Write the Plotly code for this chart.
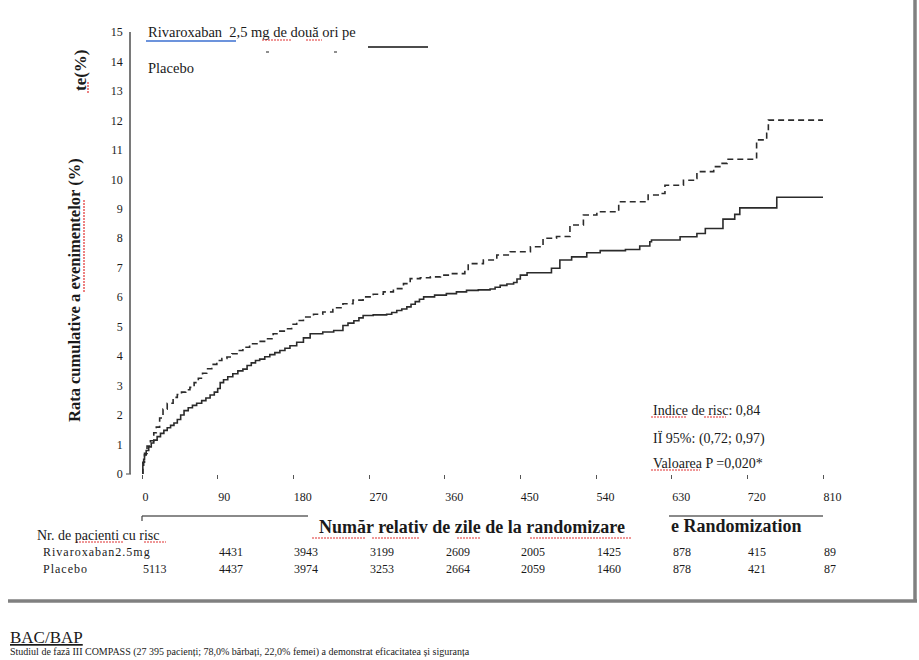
import plotly.graph_objects as go

# ---------------- data ----------------
riva_days = [0, 1, 2, 3, 5, 8, 11, 14, 18, 22, 26, 30, 34, 38, 42, 46, 50, 55, 60, 65, 71, 76, 81,
             86, 90, 93, 97, 102, 108, 114, 120, 125, 130, 135, 140, 146, 152, 158, 164, 170, 176,
             184, 192, 200, 215, 228, 239, 245, 252, 258, 263, 275, 291, 297, 303, 309, 315, 320,
             325, 330, 335, 348, 362, 374, 386, 400, 414, 420, 426, 434, 442, 446, 450, 458, 487,
             497, 511, 529, 545, 575, 592, 604, 606, 640, 660, 670, 691, 705, 711, 755, 810]
riva_rate = [0, 0.3, 0.5, 0.65, 0.8, 0.92, 1.05, 1.15, 1.27, 1.38, 1.48, 1.57, 1.65, 1.73, 1.85,
             2.0, 2.15, 2.25, 2.33, 2.4, 2.49, 2.58, 2.68, 2.78, 2.9, 3.1, 3.2, 3.3, 3.4, 3.5, 3.56,
             3.68, 3.77, 3.85, 3.9, 3.98, 4.05, 4.12, 4.19, 4.27, 4.35, 4.47, 4.62, 4.76, 4.82,
             4.87, 5.04, 5.12, 5.2, 5.3, 5.38, 5.4, 5.42, 5.48, 5.55, 5.6, 5.67, 5.76, 5.85, 5.93,
             6.01, 6.07, 6.12, 6.18, 6.23, 6.25, 6.28, 6.34, 6.4, 6.45, 6.5, 6.62, 6.75, 6.83, 6.98,
             7.26, 7.37, 7.51, 7.58, 7.62, 7.74, 7.88, 7.94, 8.05, 8.16, 8.33, 8.65, 8.81, 9.03,
             9.39, 9.39]

plac_days = [0, 1, 3, 6, 10, 14, 17, 21, 25, 30, 37, 42, 47, 52, 57, 62, 67, 72, 77, 83, 89, 95,
             101, 107, 113, 120, 128, 138, 148, 156, 164, 172, 178, 184, 192, 204, 215, 227, 239,
             251, 263, 275, 287, 299, 311, 319, 331, 343, 355, 366, 384, 388, 406, 422, 438, 462,
             477, 493, 509, 525, 541, 567, 602, 614, 622, 644, 658, 660, 680, 690, 696, 731, 743,
             745, 810]
plac_rate = [0, 0.4, 0.7, 0.95, 1.13, 1.4, 1.59, 1.9, 2.2, 2.4, 2.6, 2.7, 2.78, 2.86, 2.94, 3.1,
             3.25, 3.42, 3.57, 3.72, 3.85, 3.92, 3.97, 4.08, 4.19, 4.3, 4.42, 4.5, 4.59, 4.76, 4.85,
             4.93, 5.08, 5.21, 5.33, 5.42, 5.5, 5.64, 5.78, 5.9, 6.01, 6.1, 6.18, 6.29, 6.46, 6.63,
             6.66, 6.69, 6.75, 6.8, 6.91, 7.14, 7.26, 7.43, 7.54, 7.71, 8.0, 8.06, 8.45, 8.79, 8.9,
             9.24, 9.47, 9.52, 9.8, 9.97, 10.03, 10.26, 10.43, 10.54, 10.68, 11.34, 11.56, 12.01,
             12.01]

x_ticks = [0, 90, 180, 270, 360, 450, 540, 630, 720, 810]
x_tick_labels = ["0", "90", "180", "270", "360", "450", "540", "630", "720", "810"]
y_ticks = list(range(0, 16))

risk_riva = [None, 4431, 3943, 3199, 2609, 2005, 1425, 878, 415, 89]
risk_plac = [5113, 4437, 3974, 3253, 2664, 2059, 1460, 878, 421, 87]

stats_lines = ["Indice de risc: 0,84", "IÏ 95%: (0,72; 0,97)", "Valoarea P =0,020*"]

# ---------------- layout helpers (pixel -> paper) ----------------
W, H = 919, 660
L, R, T, B = 131, 89, 32, 186
PW, PH = W - L - R, H - T - B
def px(x):
    return (x - L) / PW
def py(y):
    return (H - B - y) / PH

SERIF = "Liberation Serif, Times New Roman, serif"
INK = "#1a1a1a"

fig = go.Figure()
fig.add_trace(go.Scatter(x=riva_days, y=riva_rate, mode="lines", line_shape="hv",
                         line=dict(color="#2b2b2b", width=1.6), name="Rivaroxaban 2,5 mg",
                         hoverinfo="skip"))
fig.add_trace(go.Scatter(x=plac_days, y=plac_rate, mode="lines", line_shape="hv",
                         line=dict(color="#2b2b2b", width=1.6, dash="6px,4px"), name="Placebo",
                         hoverinfo="skip"))

ann = []
def text(x, y, s, size=14, bold=False, anchor="left", angle=0, xref="paper", yanchor="middle", **kw):
    ann.append(dict(x=x, y=y, xref=xref, yref="paper", text=s, showarrow=False,
                    xanchor=anchor, yanchor=yanchor, textangle=angle,
                    font=dict(family=SERIF, size=size, color=INK,
                              weight="bold" if bold else "normal"), **kw))

text(px(146), py(32), "Rivaroxaban  2,5 mg de două ori pe", size=14.5)
text(px(146), py(68), "Placebo", size=14.5)
text(px(80), py(70), "te(%)", size=17, bold=True, anchor="center", angle=-90)
text(px(75), py(290), "Rata cumulative a evenimentelor (%)", size=16.5, bold=True,
     anchor="center", angle=-90)
for i, s in enumerate(stats_lines):
    text(px(651), py([410, 438, 463][i]), s)
text(px(472), py(527), "Număr relativ de zile de la randomizare", size=18, bold=True, anchor="center")
text(px(669), py(526), "e Randomization", size=18, bold=True)
text(px(35), py(535), "Nr. de pacienti cu risc", size=14)
HS = "\u200a"
text(px(41), py(551.5), HS.join("Rivaroxaban2.5mg"), size=12)
text(px(41), py(569), HS.join("Placebo"), size=12)
for d, v in zip(x_ticks, risk_riva):
    if v is not None:
        text(d, py(551.5), str(v), size=12, xref="x", xshift=-1)
for d, v in zip(x_ticks, risk_plac):
    text(d, py(569), str(v), size=12, xref="x", xshift=-1)
text(px(8), py(637.5), "<u>BAC/BAP</u>", size=17)
text(px(8), py(660), "Studiul de fază III COMPASS (27 395 pacienți; 78,0% bărbați, 22,0% femei) a demonstrat eficacitatea și siguranța",
     size=10, yanchor="bottom")

shapes = []
def seg(x0, y0, x1, y1, color="#222", width=1.3, dash=None):
    shapes.append(dict(type="line", xref="paper", yref="paper",
                       x0=px(x0), y0=py(y0), x1=px(x1), y1=py(y1),
                       line=dict(color=color, width=width, dash=dash)))

seg(368, 47, 428, 47, color="#111", width=1.4)          # legend solid sample
seg(266, 52, 269, 52, color="#444", width=1.2)          # dash fragments
seg(334, 52, 337, 52, color="#444", width=1.2)
seg(146, 41, 236, 41, color="#3b6fd0", width=1.3)       # blue underline
seg(126, 474, 131, 474, color="#666", width=1.2)        # zero tick on y
seg(142, 516, 308, 516, color="#8a8a8a", width=2)       # bracket left
seg(142, 516, 142, 521, color="#444", width=1.2)
seg(669, 516, 823, 516, color="#8a8a8a", width=2)       # bracket right
seg(915, 0, 915, 601, color="#808080", width=3.5)       # frame right
seg(8, 601, 917, 601, color="#808080", width=3.5)       # frame bottom

# red spell-check marks
for (a, b, y) in [(262, 292, 40), (306, 322, 40), (651, 687, 417), (704, 726, 417),
                  (651, 700, 470), (76, 124, 542), (144, 166, 542), (312, 365, 538),
                  (372, 420, 538), (457, 481, 538), (530, 632, 538)]:
    seg(a, y, b, y, color="#e03030", width=1.2, dash="2px,1px")
for (x, a, b) in [(88, 82, 93), (84, 200, 292)]:
    seg(x, a, x, b, color="#e03030", width=1.2, dash="2px,1px")

fig.update_layout(
    width=W, height=H, margin=dict(l=L, r=R, t=T, b=B),
    paper_bgcolor="white", plot_bgcolor="white", showlegend=False,
    annotations=ann, shapes=shapes,
    xaxis=dict(range=[-13.08, 818.3], tickvals=x_ticks, ticktext=x_tick_labels,
               ticks="outside", ticklen=4, tickcolor="#555", tickwidth=1,
               ticklabelposition="outside right", ticklabelstandoff=12,
               showline=False, showgrid=False, zeroline=False,
               tickfont=dict(family=SERIF, size=12, color=INK)),
    yaxis=dict(range=[0, 15], tickvals=y_ticks, ticks="", showline=True,
               linecolor="#7a7a7a", linewidth=1.6, showgrid=False, zeroline=False,
               ticklabelstandoff=4, tickfont=dict(family=SERIF, size=12, color=INK)),
)
fig.write_html("out.html")
